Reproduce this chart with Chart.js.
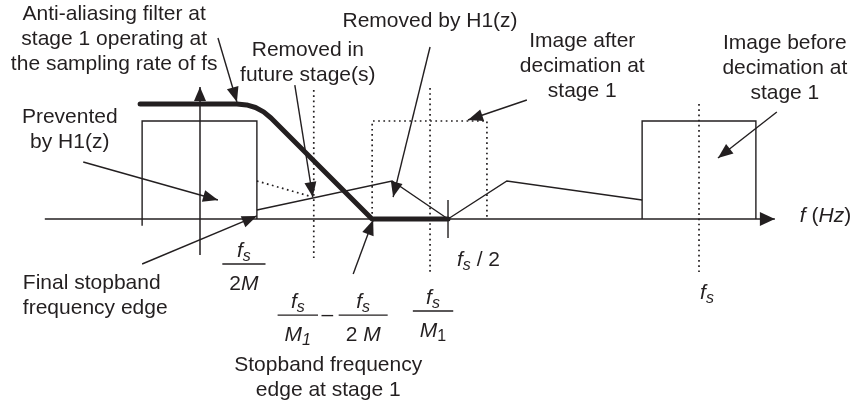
<!DOCTYPE html>
<html>
<head>
<meta charset="utf-8">
<script src="https://cdn.jsdelivr.net/npm/chart.js@4/dist/chart.umd.min.js"></script>
<style>
  html, body { margin: 0; padding: 0; background: #fff; }
  #wrap { width: 853px; height: 404px; position: relative; }
</style>
</head>
<body>
<div id="wrap"><canvas id="spectrum"></canvas></div>
<script>
// frequency in units of fs, magnitude relative to the signal band height
var axisF = [-0.311, 1.152], axisA = [0, 0];
var vAxisF = [0, 0], vAxisA = [-0.367, 1.347];

var baseBandF = [-0.116, -0.116, 0.114, 0.114], baseBandA = [-0.07, 1, 1, 0];
var imageBandF = [0.886, 0.886, 1.114, 1.114], imageBandA = [0, 1, 1, 0];
var decimBandF = [0.345, 0.345, 0.575, 0.575], decimBandA = [0, 1, 1, 0];

var filterF = [-0.120, 0.074, 0.0934, 0.1112, 0.1275, 0.1423, 0.3447, 0.497];
var filterA = [1.1735, 1.1735, 1.164, 1.138, 1.093, 1.031, 0, 0];

var aliasF = [0.114, 0.385, 0.497, 0.615, 0.886];
var aliasA = [0.092, 0.388, 0, 0.388, 0.194];

var rollF = [0.114, 0.226], rollA = [0.388, 0.224];

var markF = [0.228, 0.461, 1.0];
var markTop = [1.316, 1.337, 1.173];
var markBottom = [-0.398, -0.551, -0.541];

var halfTickF = [0.497, 0.497], halfTickA = [0.194, -0.194];

// annotation arrows: tail -> tip
var arrowFromF = [0.036, -0.234, -0.116, 0.190, 0.461, 0.655, 1.156, 0.307];
var arrowFromA = [1.847, 0.582, -0.459, 1.367, 1.755, 1.214, 1.092, -0.561];
var arrowToF = [0.074, 0.036, 0.114, 0.226, 0.387, 0.537, 1.038, 0.347];
var arrowToA = [1.194, 0.194, 0.031, 0.224, 0.224, 1.010, 0.622, -0.010];

var notes = [
  { lines: ['Anti-aliasing filter at', 'stage 1 operating at', 'the sampling rate of fs'], f: -0.172, a: 2.092 },
  { lines: ['Removed in', 'future stage(s)'], f: 0.216, a: 1.724 },
  { lines: ['Removed by H1(z)'], f: 0.461, a: 2.020 },
  { lines: ['Image after', 'decimation at', 'stage 1'], f: 0.766, a: 1.816 },
  { lines: ['Image before', 'decimation at', 'stage 1'], f: 1.172, a: 1.796 },
  { lines: ['Prevented', 'by H1(z)'], f: -0.261, a: 1.041 },
  { lines: ['Final stopband', 'frequency edge'], f: -0.355, a: -0.653, align: 'left' },
  { lines: ['Stopband frequency', 'edge at stage 1'], f: 0.257, a: -1.490 }
];

// math labels: [text, style] with i = italic, r = roman, s = italic subscript, sr = roman subscript
var FS = [['f', 'i'], ['s', 's']];
var fracs = [
  { num: FS, den: [['2', 'r'], ['M', 'i']], f: 0.088, a: -0.459 },
  { num: FS, den: [['M', 'i'], ['1', 's']], f: 0.196, a: -0.980 },
  { num: FS, den: [['2 ', 'r'], ['M', 'i']], f: 0.327, a: -0.980 },
  { num: FS, den: [['M', 'i'], ['1', 'sr']], f: 0.467, a: -0.939 }
];
var mathLabels = [
  { segs: [['–', 'r']], f: 0.255, a: -0.985 },
  { segs: [['f', 'i'], ['s', 's'], [' / 2', 'r']], f: 0.515, a: -0.418, align: 'left' },
  { segs: FS, f: 1.016, a: -0.755 },
  { segs: [['f', 'i'], [' (', 'r'], ['Hz', 'i'], [')', 'r']], f: 1.202, a: 0.03, align: 'left' }
];

var INK = '#231f20';
var FONT = '"Liberation Sans", Arial, Helvetica, sans-serif';

function pts(F, A) {
  return F.map(function (f, i) { return { x: f, y: A[i] }; });
}

function line(F, A, extra) {
  var ds = {
    data: pts(F, A),
    borderColor: INK,
    borderWidth: 1.4,
    pointRadius: 0,
    fill: false,
    tension: 0,
    borderJoinStyle: 'miter'
  };
  return Object.assign(ds, extra || {});
}

var dotted = { borderDash: [1.7, 3.5], borderWidth: 1.7 };

var datasets = [];
datasets.push(line(filterF, filterA, { borderWidth: 5, borderCapStyle: 'round', borderJoinStyle: 'round' }));
datasets.push(line(axisF, axisA, { borderWidth: 1.5, head: { len: 15, half: 7 } }));
datasets.push(line(vAxisF, vAxisA, { borderWidth: 1.5, head: { len: 14, half: 6 } }));
datasets.push(line(baseBandF, baseBandA));
datasets.push(line(imageBandF, imageBandA));
datasets.push(line(aliasF, aliasA));
datasets.push(line(halfTickF, halfTickA));
datasets.push(line(decimBandF, decimBandA, dotted));
datasets.push(line(rollF, rollA, dotted));
markF.forEach(function (f, i) {
  datasets.push(line([f, f], [markTop[i], markBottom[i]], dotted));
});
arrowFromF.forEach(function (f, i) {
  datasets.push(line([f, arrowToF[i]], [arrowFromA[i], arrowToA[i]], { borderWidth: 1.4, head: { len: 15, half: 6 } }));
});

function segFont(style) {
  var size = (style === 's' || style === 'sr') ? 16 : 21;
  var ital = (style === 'i' || style === 's') ? 'italic ' : '';
  return ital + size + 'px ' + FONT;
}

function richWidth(ctx, segs) {
  var w = 0;
  segs.forEach(function (s) { ctx.font = segFont(s[1]); w += ctx.measureText(s[0]).width; });
  return w;
}

function drawRich(ctx, segs, x, y, align) {
  var w = richWidth(ctx, segs);
  var cx = align === 'left' ? x : x - w / 2;
  ctx.textAlign = 'left';
  ctx.textBaseline = 'middle';
  segs.forEach(function (s) {
    ctx.font = segFont(s[1]);
    var dy = (s[1] === 's' || s[1] === 'sr') ? 6 : 0;
    ctx.fillText(s[0], cx, y + dy);
    cx += ctx.measureText(s[0]).width;
  });
  return w;
}

function drawHead(ctx, x0, y0, x1, y1, h) {
  var ang = Math.atan2(y1 - y0, x1 - x0);
  ctx.save();
  ctx.translate(x1, y1);
  ctx.rotate(ang);
  ctx.beginPath();
  ctx.moveTo(0, 0);
  ctx.lineTo(-h.len, -h.half);
  ctx.lineTo(-h.len, h.half);
  ctx.closePath();
  ctx.fill();
  ctx.restore();
}

var overlay = {
  id: 'overlay',
  afterDatasetsDraw: function (chart) {
    var ctx = chart.ctx, xs = chart.scales.x, ys = chart.scales.y;
    var px = function (f) { return xs.getPixelForValue(f); };
    var py = function (a) { return ys.getPixelForValue(a); };
    ctx.save();
    ctx.fillStyle = INK;
    ctx.strokeStyle = INK;

    chart.data.datasets.forEach(function (ds) {
      if (!ds.head) return;
      var n = ds.data.length, p = ds.data[n - 1], q = ds.data[n - 2];
      drawHead(ctx, px(q.x), py(q.y), px(p.x), py(p.y), ds.head);
    });

    notes.forEach(function (nt) {
      ctx.font = '21px ' + FONT;
      ctx.textAlign = nt.align || 'center';
      ctx.textBaseline = 'middle';
      nt.lines.forEach(function (t, i) {
        ctx.fillText(t, px(nt.f), py(nt.a) + i * 25.3);
      });
    });

    fracs.forEach(function (fr) {
      var x = px(fr.f), y = py(fr.a);
      var w = Math.max(richWidth(ctx, fr.num), richWidth(ctx, fr.den)) + 14;
      drawRich(ctx, fr.num, x, y - 13, 'center');
      drawRich(ctx, fr.den, x, y + 20, 'center');
      ctx.lineWidth = 1.3;
      ctx.beginPath();
      ctx.moveTo(x - w / 2, y);
      ctx.lineTo(x + w / 2, y);
      ctx.stroke();
    });

    mathLabels.forEach(function (m) {
      drawRich(ctx, m.segs, px(m.f), py(m.a), m.align || 'center');
    });
    ctx.restore();
  }
};

new Chart(document.getElementById('spectrum'), {
  type: 'line',
  data: { datasets: datasets },
  options: {
    responsive: true,
    maintainAspectRatio: false,
    animation: false,
    events: [],
    layout: { padding: 0 },
    plugins: { legend: { display: false }, tooltip: { enabled: false } },
    scales: {
      x: { type: 'linear', display: false, min: -0.4008, max: 1.3086 },
      y: { type: 'linear', display: false, min: -1.8878, max: 2.2347 }
    }
  },
  plugins: [overlay]
});
</script>
</body>
</html>
